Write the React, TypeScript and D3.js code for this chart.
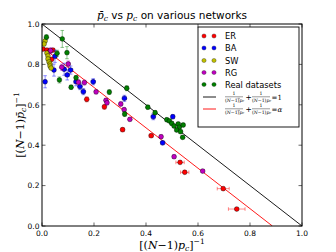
import * as d3 from "d3";

const W = 336;
const H = 252;
const ALPHA = 0.886;

// [x, y, xerr, yerr]
type Pt = [number, number, number, number];

const ER: Pt[] = [
  [0.004, 0.876, 0.004, 0.008],
  [0.019, 0.871, 0.004, 0.008],
  [0.031, 0.866, 0.004, 0.008],
  [0.042, 0.871, 0.004, 0.008],
  [0.037, 0.825, 0.004, 0.008],
  [0.172, 0.627, 0.005, 0.012],
  [0.24, 0.59, 0.006, 0.012],
  [0.31, 0.477, 0.007, 0.01],
  [0.42, 0.447, 0.008, 0.008],
  [0.531, 0.315, 0.016, 0.006],
  [0.549, 0.266, 0.016, 0.006],
  [0.697, 0.185, 0.023, 0.006],
  [0.749, 0.084, 0.032, 0.006],
];

const BA: Pt[] = [
  [0.012, 0.714, 0.004, 0.03],
  [0.05, 0.84, 0.006, 0.03],
  [0.046, 0.772, 0.006, 0.03],
  [0.085, 0.776, 0.008, 0.03],
  [0.097, 0.748, 0.008, 0.025],
  [0.11, 0.772, 0.008, 0.02],
  [0.131, 0.714, 0.008, 0.02],
  [0.146, 0.69, 0.008, 0.015],
  [0.159, 0.665, 0.008, 0.015],
  [0.197, 0.714, 0.008, 0.015],
  [0.317, 0.632, 0.008, 0.015],
  [0.428, 0.541, 0.008, 0.015],
  [0.464, 0.412, 0.008, 0.01],
  [0.503, 0.541, 0.006, 0.01],
];

const SW: Pt[] = [
  [0.012, 0.916, 0.003, 0.008],
  [0.008, 0.901, 0.003, 0.008],
  [0.019, 0.856, 0.003, 0.008],
  [0.023, 0.842, 0.003, 0.008],
  [0.023, 0.827, 0.003, 0.008],
  [0.027, 0.812, 0.003, 0.008],
  [0.031, 0.802, 0.003, 0.008],
  [0.031, 0.792, 0.003, 0.008],
  [0.035, 0.782, 0.003, 0.008],
];

const RG: Pt[] = [
  [0.033, 0.868, 0.004, 0.015],
  [0.076, 0.786, 0.006, 0.015],
  [0.101, 0.802, 0.006, 0.015],
  [0.14, 0.712, 0.006, 0.012],
  [0.163, 0.71, 0.006, 0.012],
  [0.208, 0.664, 0.006, 0.01],
  [0.246, 0.622, 0.006, 0.01],
  [0.25, 0.61, 0.006, 0.01],
  [0.303, 0.604, 0.006, 0.01],
  [0.316, 0.576, 0.006, 0.01],
  [0.338, 0.528, 0.006, 0.008],
  [0.458, 0.442, 0.006, 0.008],
  [0.508, 0.343, 0.006, 0.008],
  [0.618, 0.272, 0.006, 0.008],
];

const REAL: Pt[] = [
  [0.017, 0.935, 0.004, 0.012],
  [0.078, 0.926, 0.004, 0.042],
  [0.096, 0.858, 0.004, 0.03],
  [0.058, 0.855, 0.004, 0.015],
  [0.067, 0.723, 0.004, 0.015],
  [0.112, 0.687, 0.004, 0.01],
  [0.131, 0.734, 0.004, 0.01],
  [0.259, 0.663, 0.004, 0.012],
  [0.326, 0.682, 0.006, 0.012],
  [0.318, 0.554, 0.006, 0.012],
  [0.407, 0.588, 0.006, 0.01],
  [0.435, 0.561, 0.006, 0.01],
  [0.48, 0.526, 0.006, 0.008],
  [0.49, 0.52, 0.006, 0.008],
  [0.499, 0.508, 0.006, 0.008],
  [0.508, 0.495, 0.006, 0.008],
  [0.524, 0.505, 0.006, 0.008],
  [0.528, 0.489, 0.006, 0.008],
  [0.543, 0.5, 0.006, 0.008],
  [0.518, 0.475, 0.006, 0.008],
  [0.533, 0.467, 0.006, 0.008],
  [0.541, 0.439, 0.006, 0.008],
];

const SERIES = [
  { name: "ER", color: "#ff0000", data: ER },
  { name: "BA", color: "#0000ff", data: BA },
  { name: "SW", color: "#bfbf00", data: SW },
  { name: "RG", color: "#bf00bf", data: RG },
  { name: "Real datasets", color: "#008000", data: REAL },
];

const TICKS = [0, 0.2, 0.4, 0.6, 0.8, 1.0];

const margin = { left: 42, right: 34, top: 24, bottom: 26 };
const x = d3.scaleLinear().domain([0, 1]).range([margin.left, W - margin.right]);
const y = d3.scaleLinear().domain([0, 1]).range([H - margin.bottom, margin.top]);

const MATH = "'DejaVu Serif', serif";
const SANS = "'DejaVu Sans', sans-serif";

function Frac({ px, py, bar }: { px: number; py: number; bar: boolean }) {
  // tiny 1 / ((N-1)p_c) fraction like matplotlib mathtext
  return (
    <g transform={`translate(${px},${py})`} fontFamily={MATH} fontSize={4.6}>
      <text x={9} y={-1.6} textAnchor="middle">1</text>
      <line x1={0} x2={18} y1={-0.2} y2={-0.2} stroke="#000" strokeWidth={0.4} />
      <text x={0} y={4.6}>
        (<tspan fontStyle="italic">N</tspan>−1)
        <tspan fontStyle="italic">p</tspan>
        <tspan fontSize={3.4} dy={0.8} fontStyle="italic">c</tspan>
      </text>
      {bar && <line x1={12.6} x2={15} y1={1.3} y2={1.3} stroke="#000" strokeWidth={0.35} />}
    </g>
  );
}

export default function App() {
  const x0 = x(0), x1 = x(1), y0 = y(0), y1 = y(1);
  const legX = 198, legY = 27, legW = 101, legH = 100;
  const rows = [36, 48, 60.5, 72.5, 84.5];
  return (
    <div style={{ position: "fixed", left: 0, top: 0 }}>
      <svg width={W} height={H} style={{ display: "block", background: "#fff" }}>
        <defs>
          <clipPath id="plot">
            <rect x={x0} y={y1} width={x1 - x0} height={y0 - y1} />
          </clipPath>
        </defs>
        <rect x={0} y={0} width={W} height={H} fill="#fff" />

        {/* reference lines */}
        <g clipPath="url(#plot)">
          <line x1={x(0)} y1={y(1)} x2={x(1)} y2={y(0)} stroke="#000" strokeWidth={0.9} />
          <line x1={x(0)} y1={y(ALPHA)} x2={x(ALPHA)} y2={y(0)} stroke="#ff0000" strokeWidth={0.9} />

          {SERIES.map((s) => (
            <g key={s.name}>
              {s.data.map((d, i) => {
                const cx = x(d[0]), cy = y(d[1]);
                const ex = x(d[0] + d[2]) - cx;
                const ey = cy - y(d[1] + d[3]);
                return (
                  <g key={i} stroke={s.color} strokeOpacity={0.45} strokeWidth={1}>
                    <line x1={cx - ex} x2={cx + ex} y1={cy} y2={cy} />
                    <line x1={cx} x2={cx} y1={cy - ey} y2={cy + ey} />
                    <line x1={cx - 1.8} x2={cx + 1.8} y1={cy - ey} y2={cy - ey} />
                    <line x1={cx - 1.8} x2={cx + 1.8} y1={cy + ey} y2={cy + ey} />
                    <line x1={cx - ex} x2={cx - ex} y1={cy - 1.8} y2={cy + 1.8} />
                    <line x1={cx + ex} x2={cx + ex} y1={cy - 1.8} y2={cy + 1.8} />
                  </g>
                );
              })}
              {s.data.map((d, i) => (
                <circle key={i} cx={x(d[0])} cy={y(d[1])} r={2.4} fill={s.color} stroke="#000" strokeWidth={0.4} />
              ))}
            </g>
          ))}
        </g>

        {/* frame */}
        <rect x={x0} y={y1} width={x1 - x0} height={y0 - y1} fill="none" stroke="#000" strokeWidth={1} />

        {/* ticks */}
        {TICKS.map((t) => (
          <g key={t} stroke="#000" strokeWidth={0.6}>
            <line x1={x(t)} x2={x(t)} y1={y0} y2={y0 - 3.5} />
            <line x1={x(t)} x2={x(t)} y1={y1} y2={y1 + 3.5} />
            <line x1={x0} x2={x0 + 3.5} y1={y(t)} y2={y(t)} />
            <line x1={x1} x2={x1 - 3.5} y1={y(t)} y2={y(t)} />
          </g>
        ))}
        {TICKS.map((t) => (
          <text key={"x" + t} x={x(t)} y={y0 + 10} textAnchor="middle" fontFamily={SANS} fontSize={7.5}>
            {t.toFixed(1)}
          </text>
        ))}
        {TICKS.map((t) => (
          <text key={"y" + t} x={x0 - 2.5} y={y(t) + 2.7} textAnchor="end" fontFamily={SANS} fontSize={7.5}>
            {t.toFixed(1)}
          </text>
        ))}

        {/* title */}
        <text x={(x0 + x1) / 2} y={19} textAnchor="middle" fontSize={10.5} fontFamily={SANS}>
          <tspan fontFamily={MATH} fontStyle="italic">p̄</tspan>
          <tspan fontFamily={MATH} fontStyle="italic" fontSize={7.5} dy={1.5}>c</tspan>
          <tspan dy={-1.5}> vs </tspan>
          <tspan fontFamily={MATH} fontStyle="italic">p</tspan>
          <tspan fontFamily={MATH} fontStyle="italic" fontSize={7.5} dy={1.5}>c</tspan>
          <tspan dy={-1.5}> on various networks</tspan>
        </text>

        {/* x label */}
        <text x={(x0 + x1) / 2} y={249} textAnchor="middle" fontSize={11} fontFamily={MATH}>
          [(<tspan fontStyle="italic">N</tspan>−1)<tspan fontStyle="italic">p</tspan>
          <tspan fontSize={7.5} dy={2} fontStyle="italic">c</tspan>
          <tspan dy={-2}>]</tspan>
          <tspan fontSize={7.5} dy={-5}>−1</tspan>
        </text>

        {/* y label */}
        <text transform={`translate(24,${(y0 + y1) / 2}) rotate(-90)`} textAnchor="middle" fontSize={11} fontFamily={MATH}>
          [(<tspan fontStyle="italic">N</tspan>−1)<tspan fontStyle="italic">p̄</tspan>
          <tspan fontSize={7.5} dy={2} fontStyle="italic">c</tspan>
          <tspan dy={-2}>]</tspan>
          <tspan fontSize={7.5} dy={-5}>−1</tspan>
        </text>

        {/* legend */}
        <rect x={legX} y={legY} width={legW} height={legH} fill="#fff" stroke="#000" strokeWidth={0.9} />
        {SERIES.map((s, i) => (
          <g key={s.name}>
            <circle cx={204} cy={rows[i]} r={2.1} fill={s.color} stroke="#000" strokeWidth={0.3} />
            <circle cx={214} cy={rows[i]} r={2.1} fill={s.color} stroke="#000" strokeWidth={0.3} />
            <text x={225} y={rows[i] + 3} fontFamily={SANS} fontSize={8.3}>{s.name}</text>
          </g>
        ))}
        <line x1={203} x2={216} y1={97} y2={97} stroke="#000" strokeWidth={0.9} />
        <line x1={203} x2={216} y1={109} y2={109} stroke="#ff0000" strokeWidth={0.9} />
        {[97, 109].map((ry, k) => (
          <g key={ry}>
            <Frac px={225} py={ry} bar={true} />
            <text x={245.5} y={ry + 2.6} fontFamily={MATH} fontSize={7.5}>+</text>
            <Frac px={252} py={ry} bar={false} />
            <text x={271.5} y={ry + 2.6} fontFamily={MATH} fontSize={7}>
              ={k === 0 ? "1" : <tspan fontStyle="italic">α</tspan>}
            </text>
          </g>
        ))}
      </svg>
    </div>
  );
}
